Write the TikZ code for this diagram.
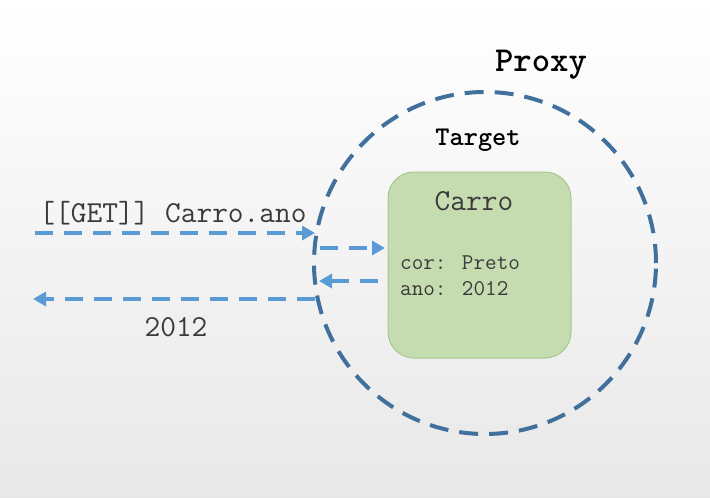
\documentclass[tikz,border=0pt]{standalone}
\usepackage{fontspec}
\usetikzlibrary{arrows.meta, positioning, shapes}
\definecolor{proxyblue}{HTML}{41709C}
\definecolor{arrowblue}{HTML}{5B9BD5}
\definecolor{targetgreen}{HTML}{C5DCB0}
\definecolor{targetline}{HTML}{A8C78E}
\definecolor{txtgray}{HTML}{3A3A3A}

\begin{document}
\begin{tikzpicture}[x=1pt,y=-1pt,
    txt/.style={font=\ttfamily\fontsize{30.5}{34}\selectfont, text=txtgray, inner sep=0pt},
    call/.style={draw=arrowblue, line width=4pt, dash pattern=on 18pt off 11pt, -{Triangle[length=13pt,width=14pt]}}]

      \useasboundingbox (0,0) rectangle (710,498);
      \shade[top color=white, bottom color=black!9] (0,0) rectangle (710,498);

      \node[circle, draw=proxyblue, line width=4pt, dash pattern=on 19pt off 11pt, minimum size=342pt] (proxy) at (485,263) {};
      \node[txt, font=\ttfamily\bfseries\fontsize{35}{38}\selectfont, text=black] (proxyname) at (541,65) {Proxy};
      \node[txt, font=\ttfamily\bfseries\fontsize{27}{30}\selectfont, text=black] (targetname) at (478,140) {Target};

      \node[rectangle, rounded corners=26pt, draw=targetline, line width=1pt, fill=targetgreen, minimum width=183pt, minimum height=186pt] (carro) at (479.5,265) {};
      \node[txt] (carroname) at (474,201) {Carro};
      \node[txt, font=\ttfamily\fontsize{22.5}{25}\selectfont, anchor=west] (cor) at (400,263) {cor: Preto};
      \node[txt, font=\ttfamily\fontsize{22.5}{25}\selectfont, anchor=west] (ano) at (400,289) {ano: 2012};

      \node[txt] (get) at (173,213) {[[GET]] Carro.ano};
      \node[txt] (result) at (176,327) {2012};

      \coordinate (in1) at (35,233);
      \coordinate (in2) at (315,233);
      \coordinate (fw1) at (320,248);
      \coordinate (fw2) at (385,248);
      \coordinate (bk1) at (378,281);
      \coordinate (bk2) at (319,281);
      \coordinate (out1) at (315,299);
      \coordinate (out2) at (33,299);

      \path[call] (in1) -- (in2);
      \path[call] (fw1) -- (fw2);
      \path[call] (bk1) -- (bk2);
      \path[call] (out1) -- (out2);
    \end{tikzpicture}
\end{document}
